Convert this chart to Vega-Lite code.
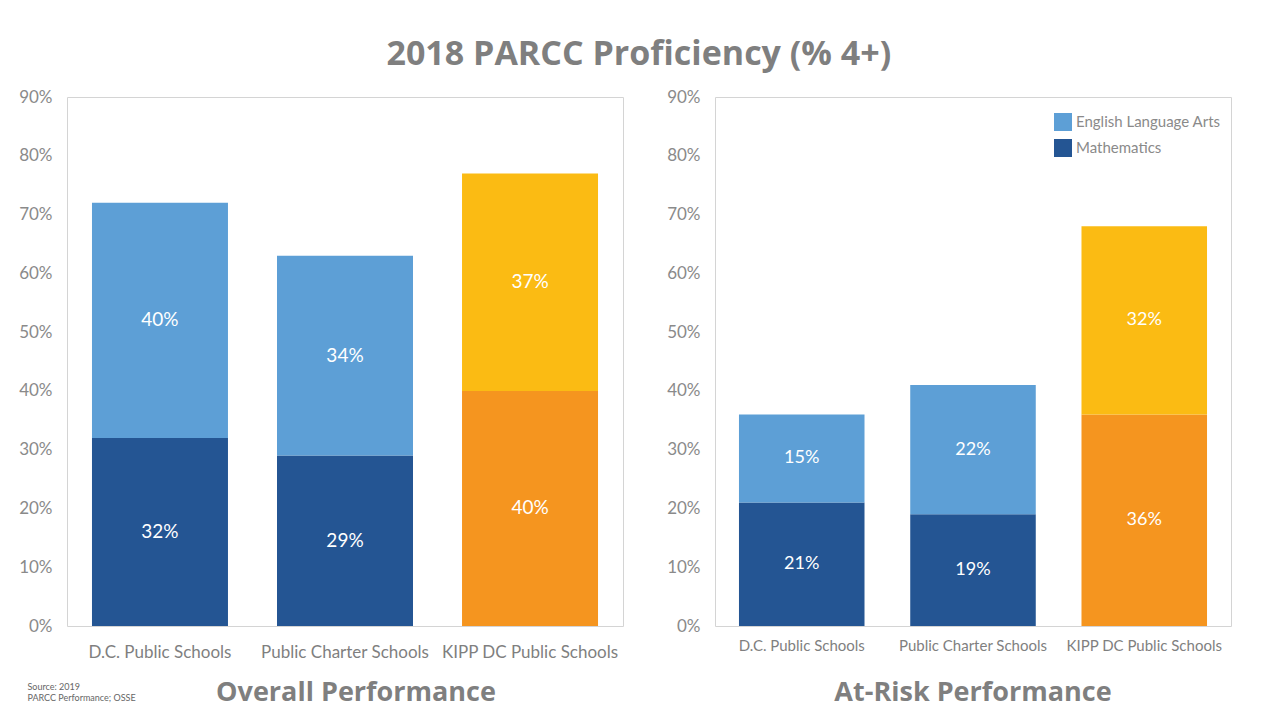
{
  "$schema": "https://vega.github.io/schema/vega-lite/v6.json",
  "background": "white",
  "padding": {"left": 18, "top": 37, "right": 10, "bottom": 12},
  "title": {"text": "2018 PARCC Proficiency (% 4+)", "fontSize": 34, "font": "Open Sans", "fontWeight": "bold", "color": "#7f7f7f", "anchor": "middle", "offset": 16, "dx": 14},
  "datasets": {
    "overall": [
      {"school": "D.C. Public Schools", "subject": "Math", "series": "Mathematics", "value": 0.32},
      {"school": "D.C. Public Schools", "subject": "ELA", "series": "English Language Arts", "value": 0.40},
      {"school": "Public Charter Schools", "subject": "Math", "series": "Mathematics", "value": 0.29},
      {"school": "Public Charter Schools", "subject": "ELA", "series": "English Language Arts", "value": 0.34},
      {"school": "KIPP DC Public Schools", "subject": "Math", "series": "KIPP DC Mathematics", "value": 0.40},
      {"school": "KIPP DC Public Schools", "subject": "ELA", "series": "KIPP DC English Language Arts", "value": 0.37}
    ],
    "atrisk": [
      {"school": "D.C. Public Schools", "subject": "Math", "series": "Mathematics", "value": 0.21},
      {"school": "D.C. Public Schools", "subject": "ELA", "series": "English Language Arts", "value": 0.15},
      {"school": "Public Charter Schools", "subject": "Math", "series": "Mathematics", "value": 0.19},
      {"school": "Public Charter Schools", "subject": "ELA", "series": "English Language Arts", "value": 0.22},
      {"school": "KIPP DC Public Schools", "subject": "Math", "series": "KIPP DC Mathematics", "value": 0.36},
      {"school": "KIPP DC Public Schools", "subject": "ELA", "series": "KIPP DC English Language Arts", "value": 0.32}
    ]
  },
  "config": {
    "view": {"stroke": "#d4d4d4", "strokeWidth": 1},
    "axis": {"grid": false, "ticks": false, "domain": false, "labelFont": "Lato", "labelColor": "#8a8a8a"},
    "title": {"font": "Open Sans", "fontWeight": "bold", "color": "#7f7f7f"}
  },
  "spacing": 42,
  "resolve": {"scale": {"color": "independent", "x": "independent", "y": "independent"}, "legend": {"color": "independent"}},
  "hconcat": [
    {
      "width": 556,
      "height": 529,
      "data": {"name": "overall"},
      "title": {"text": "Overall Performance", "orient": "bottom", "fontSize": 27, "offset": -22, "dx": 11},
      "transform": [
        {"stack": "value", "groupby": ["school"], "sort": [{"field": "subject", "order": "descending"}], "as": ["v0", "v1"]},
        {"calculate": "(datum.v0 + datum.v1) / 2", "as": "mid"}
      ],
      "encoding": {
        "x": {"field": "school", "type": "nominal", "sort": null,
          "scale": {"paddingInner": 0.265, "paddingOuter": 0.135},
          "axis": {"labelAngle": 0, "labelFontSize": 17, "labelPadding": 18, "labelColor": "#7f7f7f",
            "title": ["Source: 2019", " PARCC Performance;  OSSE"], "titleFont": "Lato", "titleFontSize": 9, "titleFontWeight": "normal", "titleColor": "#666666",
            "titleAlign": "left", "titleAnchor": "start", "titleX": -40, "titleY": 60, "titleLineHeight": 11, "titleBaseline": "middle"}}
      },
      "layer": [
        {
          "mark": {"type": "bar"},
          "encoding": {
            "y": {"field": "v1", "type": "quantitative", "scale": {"domain": [0, 0.9], "nice": false},
              "axis": {"values": [0, 0.1, 0.2, 0.3, 0.4, 0.5, 0.6, 0.7, 0.8, 0.9], "format": ".0%", "labelFontSize": 17, "labelPadding": 15, "title": null}},
            "y2": {"field": "v0"},
            "color": {"field": "series", "type": "nominal",
              "scale": {"domain": ["English Language Arts", "Mathematics", "KIPP DC English Language Arts", "KIPP DC Mathematics"], "range": ["#5d9fd6", "#245593", "#fbbb13", "#f5951f"]},
              "legend": null}
          }
        },
        {
          "mark": {"type": "text", "color": "white", "fontSize": 19, "font": "Lato"},
          "encoding": {
            "y": {"field": "mid", "type": "quantitative"},
            "text": {"field": "value", "type": "quantitative", "format": ".0%"}
          }
        }
      ]
    },
    {
      "width": 516,
      "height": 529,
      "data": {"name": "atrisk"},
      "title": {"text": "At-Risk Performance", "orient": "bottom", "fontSize": 27, "offset": 27},
      "transform": [
        {"stack": "value", "groupby": ["school"], "sort": [{"field": "subject", "order": "descending"}], "as": ["v0", "v1"]},
        {"calculate": "(datum.v0 + datum.v1) / 2", "as": "mid"}
      ],
      "encoding": {
        "x": {"field": "school", "type": "nominal", "sort": null,
          "scale": {"paddingInner": 0.267, "paddingOuter": 0.14},
          "axis": {"labelAngle": 0, "labelFontSize": 15, "labelPadding": 12, "labelColor": "#7f7f7f", "title": null}}
      },
      "layer": [
        {
          "mark": {"type": "bar"},
          "encoding": {
            "y": {"field": "v1", "type": "quantitative", "scale": {"domain": [0, 0.9], "nice": false},
              "axis": {"values": [0, 0.1, 0.2, 0.3, 0.4, 0.5, 0.6, 0.7, 0.8, 0.9], "format": ".0%", "labelFontSize": 17, "labelPadding": 15, "title": null}},
            "y2": {"field": "v0"},
            "color": {"field": "series", "type": "nominal",
              "scale": {"domain": ["English Language Arts", "Mathematics", "KIPP DC English Language Arts", "KIPP DC Mathematics"], "range": ["#5d9fd6", "#245593", "#fbbb13", "#f5951f"]},
              "legend": {"orient": "none", "legendX": 339, "legendY": 16, "title": null, "values": ["English Language Arts", "Mathematics"], "symbolType": "square", "symbolSize": 324, "symbolStrokeWidth": 0, "labelFont": "Lato", "labelFontSize": 15, "labelColor": "#8a8a8a", "rowPadding": 8, "labelOffset": 4, "padding": 0}}
          }
        },
        {
          "mark": {"type": "text", "color": "white", "fontSize": 18, "font": "Lato"},
          "encoding": {
            "y": {"field": "mid", "type": "quantitative"},
            "text": {"field": "value", "type": "quantitative", "format": ".0%"}
          }
        }
      ]
    }
  ]
}
